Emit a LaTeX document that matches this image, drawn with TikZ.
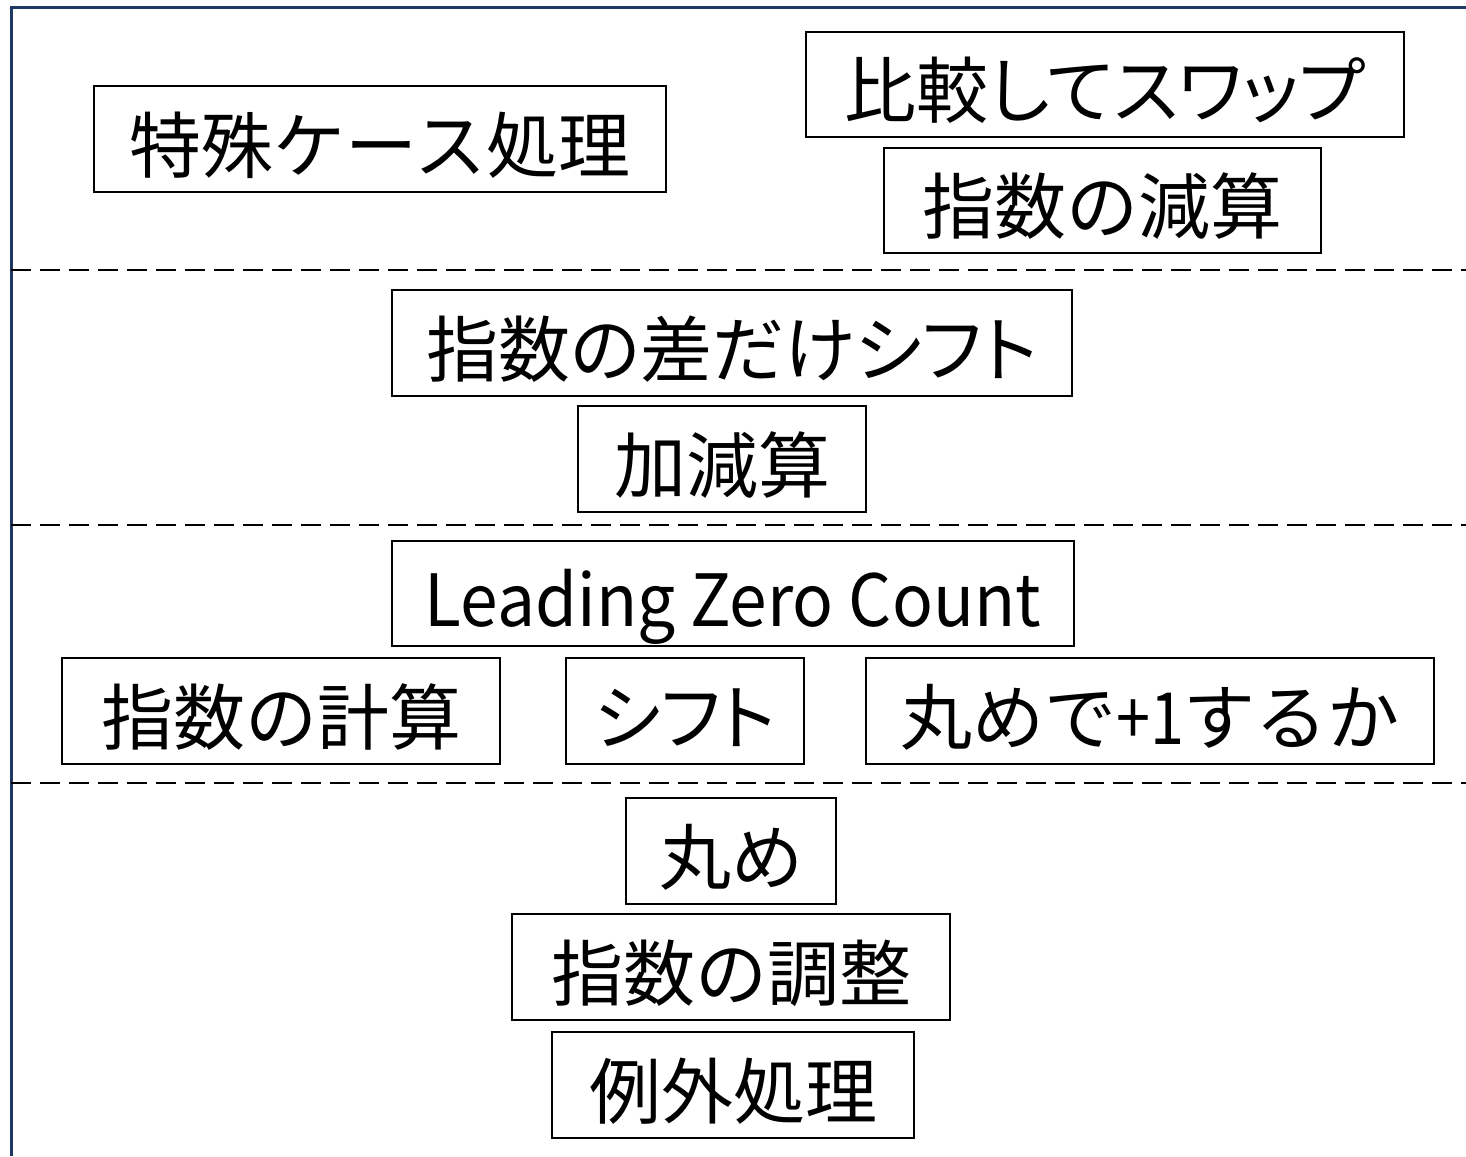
\documentclass[tikz,border=0pt]{standalone}
\usepackage{fontspec}
\setmainfont{Noto Sans CJK JP}
\newfontfamily\propfont[RawFeature=+palt]{Noto Sans CJK JP}
\definecolor{frameblue}{HTML}{1F3864}
\begin{document}
\begin{tikzpicture}[x=1pt,y=-1pt,
  blk/.style={draw=black,line width=2.8pt,inner sep=0pt,font=\fontsize{72}{76}\selectfont},
  sep/.style={draw=black,line width=2.8pt,dash pattern=on 20pt off 9pt},
  frm/.style={draw=frameblue,line width=3pt}]
\useasboundingbox (0,0) rectangle (1466,1156);
\newcommand\mybox[6]{\node[blk,minimum width=#4-#2,minimum height=#5-#3] (#1) at ({(#2+#4)/2},{(#3+#5)/2}) {\raisebox{-33pt}[0pt][0pt]{#6}};}
\coordinate (fl) at (11,8);
\coordinate (fr) at (1466,8);
\coordinate (fb) at (11,1156);
\draw[frm] (fr) -- (fl) -- (fb);
\coordinate (d1l) at (11,270); \coordinate (d1r) at (1466,270);
\coordinate (d2l) at (11,525); \coordinate (d2r) at (1466,525);
\coordinate (d3l) at (11,783); \coordinate (d3r) at (1466,783);
\draw[sep] (d1l) -- (d1r);
\draw[sep] (d2l) -- (d2r);
\draw[sep] (d3l) -- (d3r);
\mybox{a}{94}{86}{666}{192}{特殊ケース処理}
\mybox{b}{806}{32}{1404}{137}{\propfont 比較してスワップ}
\mybox{c}{884}{148}{1321}{253}{指数の減算}
\mybox{d}{392}{290}{1072}{396}{\propfont 指数の差だけシフト}
\mybox{e}{578}{406}{866}{512}{加減算}
\mybox{f}{392}{541}{1074}{646}{\scalebox{0.94}[1]{Leading Zero Count}}
\mybox{g}{62}{658}{500}{764}{指数の計算}
\mybox{h}{566}{658}{804}{764}{\propfont シフト}
\mybox{i}{866}{658}{1434}{764}{丸めで\scalebox{0.85}[1]{+1}するか}
\mybox{j}{626}{798}{836}{904}{丸め}
\mybox{k}{512}{914}{950}{1020}{指数の調整}
\mybox{l}{552}{1032}{914}{1138}{例外処理}
\end{tikzpicture}
\end{document}
